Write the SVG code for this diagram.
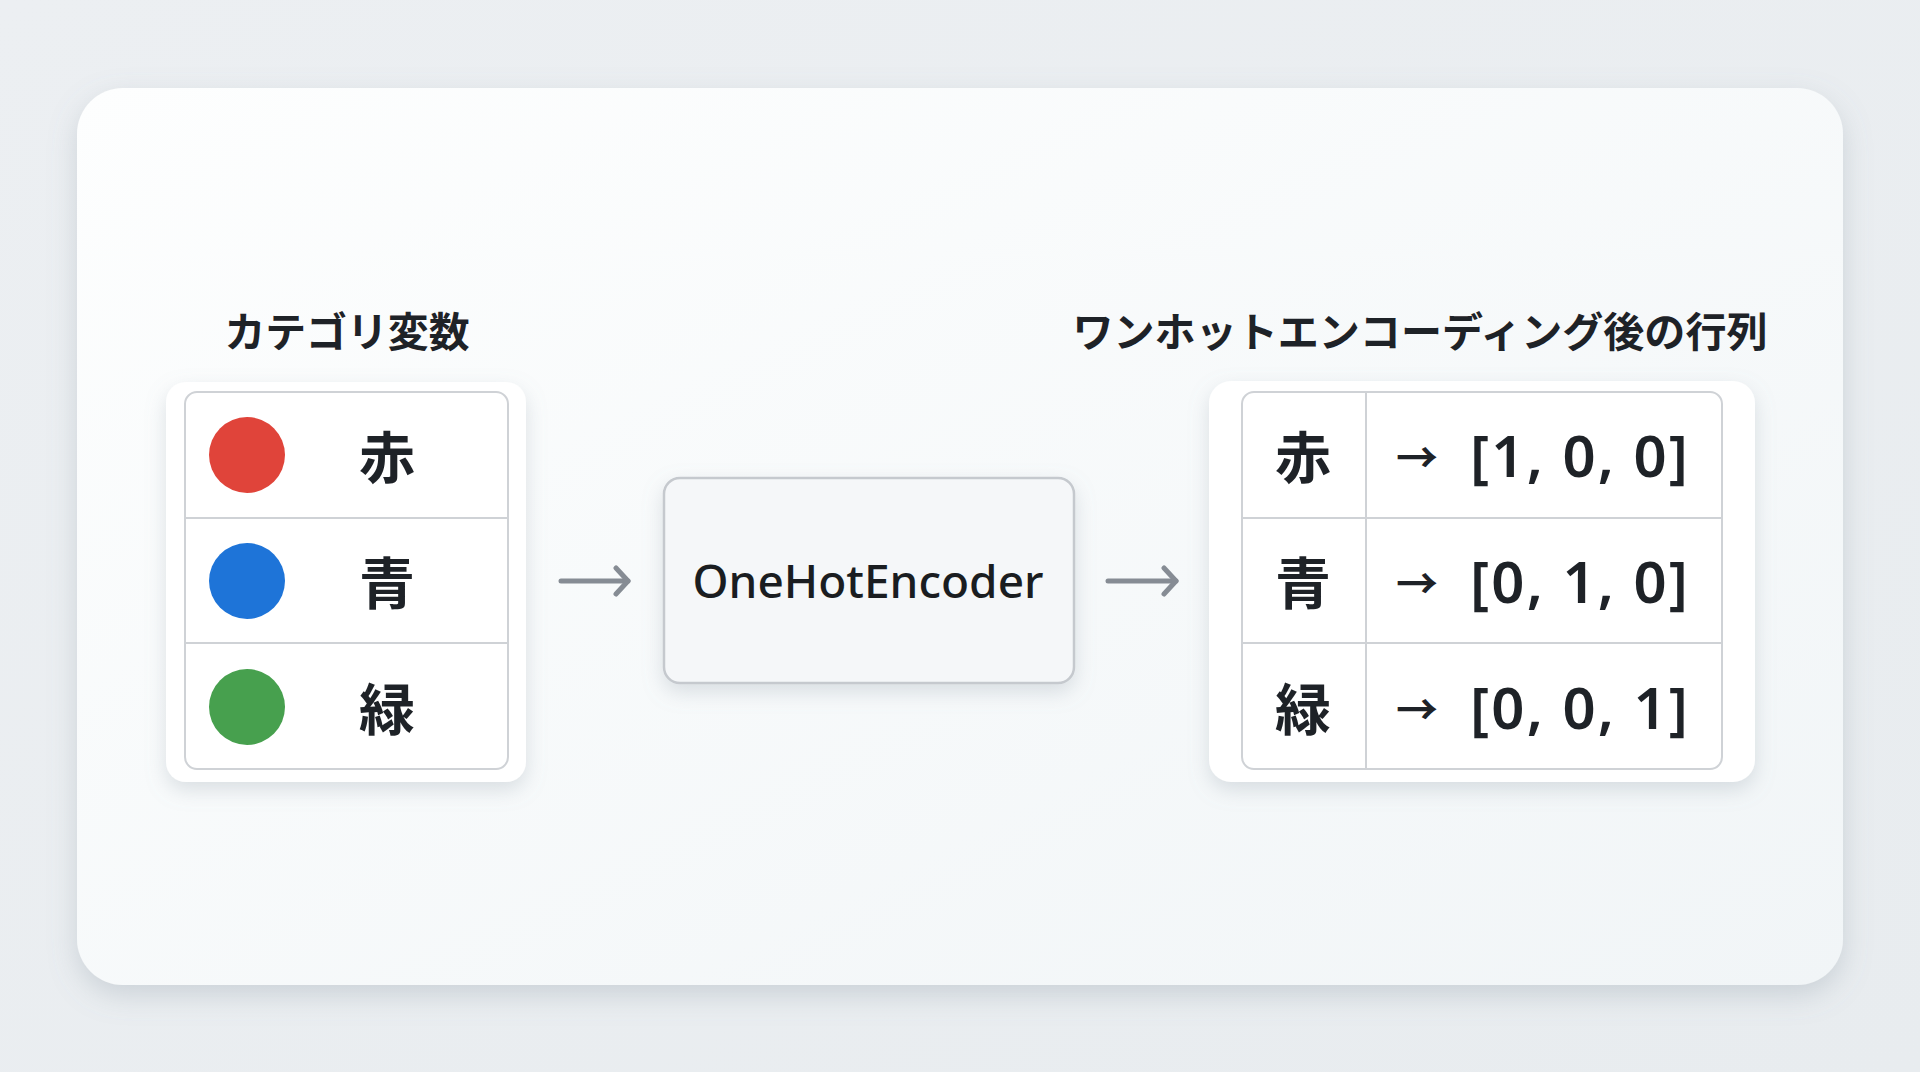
<svg xmlns="http://www.w3.org/2000/svg" width="1920" height="1072" viewBox="0 0 1920 1072">
  <defs>
    <linearGradient id="bg" x1="0" y1="0" x2="1" y2="1">
      <stop offset="0" stop-color="#eceff2"/>
      <stop offset="1" stop-color="#e8ecef"/>
    </linearGradient>
    <linearGradient id="cardFill" x1="0" y1="0" x2="1" y2="1">
      <stop offset="0" stop-color="#fdfefe"/>
      <stop offset="1" stop-color="#f1f5f7"/>
    </linearGradient>
    <filter id="shadowBig" x="-10%" y="-10%" width="120%" height="125%">
      <feDropShadow dx="0" dy="10" stdDeviation="14" flood-color="#7d8a96" flood-opacity="0.28"/>
    </filter>
    <filter id="shadow" x="-20%" y="-20%" width="140%" height="150%">
      <feDropShadow dx="0" dy="8" stdDeviation="10" flood-color="#8a96a3" flood-opacity="0.28"/>
    </filter>
    <marker id="arrow" viewBox="0 0 18 32" refX="15" refY="16" markerWidth="18" markerHeight="32" markerUnits="userSpaceOnUse" orient="auto">
      <path d="M3 3 L15 16 L3 29" fill="none" stroke="#868c94" stroke-width="5" stroke-linecap="round" stroke-linejoin="round"/>
    </marker>
  </defs>
  <style>
    .cjk { font-family: "Noto Sans CJK JP", "Noto Sans", sans-serif; fill: #1e2227; }
    .title { font-size: 41px; font-weight: 700; }
    .cell { font-size: 56px; font-weight: 700; }
    .val { font-family: "Noto Sans", "Noto Sans CJK JP", sans-serif; font-size: 58px; font-weight: 600; fill: #1e2227; }
    .arr { font-family: "Noto Sans CJK JP", "Noto Sans", sans-serif; font-size: 42px; font-weight: 700; fill: #1e2227; }
    .panel { fill: #ffffff; }
    .grid { fill: #ffffff; stroke: #cfd2d6; stroke-width: 2; }
    .line { stroke: #cfd2d6; stroke-width: 2; }
    .conn { stroke: #868c94; stroke-width: 5; stroke-linecap: round; fill: none; }
  </style>

  <rect x="0" y="0" width="1920" height="1072" fill="url(#bg)"/>
  <rect x="77" y="88" width="1766" height="897" rx="46" fill="url(#cardFill)" filter="url(#shadowBig)"/>

  <g id="categorical">
    <text class="cjk title" x="347" y="329" text-anchor="middle" dominant-baseline="central" textLength="245" lengthAdjust="spacingAndGlyphs">カテゴリ変数</text>
    <rect class="panel" x="166" y="382" width="360" height="400" rx="20" filter="url(#shadow)"/>
    <rect class="grid" x="185" y="392" width="323" height="377" rx="12"/>
    <line class="line" x1="185" y1="518" x2="508" y2="518"/>
    <line class="line" x1="185" y1="643" x2="508" y2="643"/>
    <circle cx="247" cy="455" r="38" fill="#e0443a"/>
    <circle cx="247" cy="581" r="38" fill="#1e74d8"/>
    <circle cx="247" cy="707" r="38" fill="#47a04e"/>
    <text class="cjk cell" x="387" y="453" text-anchor="middle" dominant-baseline="central">赤</text>
    <text class="cjk cell" x="387" y="579" text-anchor="middle" dominant-baseline="central">青</text>
    <text class="cjk cell" x="387" y="705" text-anchor="middle" dominant-baseline="central">緑</text>
  </g>

  <g id="encoder">
    <rect x="664" y="478" width="410" height="205" rx="16" fill="#f5f7f9" stroke="#c5c9ce" stroke-width="2.5" filter="url(#shadow)"/>
    <text x="868" y="580" text-anchor="middle" dominant-baseline="central" font-family="Noto Sans, sans-serif" font-size="46" font-weight="500" fill="#1a1d21" textLength="351" lengthAdjust="spacing">OneHotEncoder</text>
  </g>

  <g id="onehot">
    <text class="cjk title" x="1420" y="329" text-anchor="middle" dominant-baseline="central" textLength="695" lengthAdjust="spacingAndGlyphs">ワンホットエンコーディング後の行列</text>
    <rect class="panel" x="1209" y="381" width="546" height="401" rx="22" filter="url(#shadow)"/>
    <rect class="grid" x="1242" y="392" width="480" height="377" rx="12"/>
    <line class="line" x1="1242" y1="518" x2="1722" y2="518"/>
    <line class="line" x1="1242" y1="643" x2="1722" y2="643"/>
    <line class="line" x1="1366" y1="392" x2="1366" y2="769"/>
    <text class="cjk cell" x="1303" y="453" text-anchor="middle" dominant-baseline="central">赤</text>
    <text class="cjk cell" x="1303" y="579" text-anchor="middle" dominant-baseline="central">青</text>
    <text class="cjk cell" x="1303" y="705" text-anchor="middle" dominant-baseline="central">緑</text>
    <text y="454" dominant-baseline="central"><tspan class="arr" x="1396">→</tspan><tspan class="val" x="1470" textLength="218" lengthAdjust="spacing">[1, 0, 0]</tspan></text>
    <text y="580" dominant-baseline="central"><tspan class="arr" x="1396">→</tspan><tspan class="val" x="1470" textLength="218" lengthAdjust="spacing">[0, 1, 0]</tspan></text>
    <text y="706" dominant-baseline="central"><tspan class="arr" x="1396">→</tspan><tspan class="val" x="1470" textLength="218" lengthAdjust="spacing">[0, 0, 1]</tspan></text>
  </g>

  <g id="connectors">
    <line class="conn" x1="561" y1="581" x2="628" y2="581" marker-end="url(#arrow)"/>
    <line class="conn" x1="1108" y1="581" x2="1176" y2="581" marker-end="url(#arrow)"/>
  </g>
</svg>
